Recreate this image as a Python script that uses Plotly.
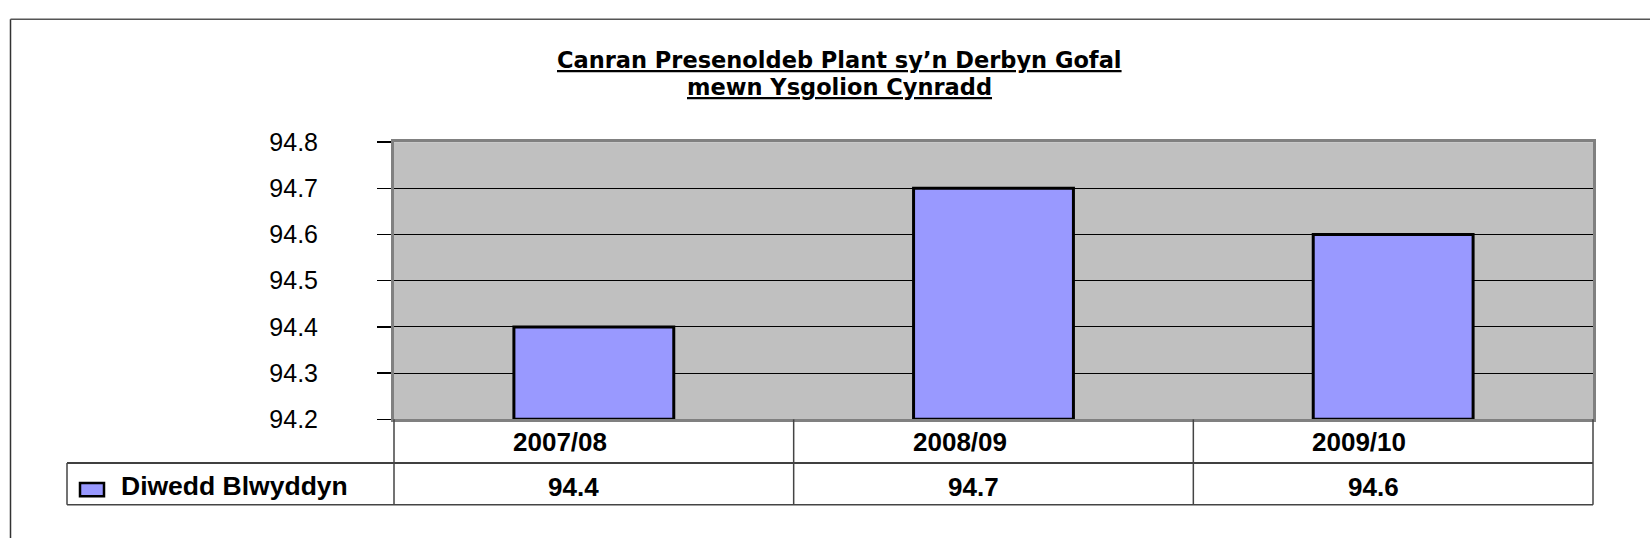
import plotly.graph_objects as go

categories = ["2007/08", "2008/09", "2009/10"]
values = [94.4, 94.7, 94.6]
series_name = "Diwedd Blwyddyn"
value_labels = ["94.4", "94.7", "94.6"]
y_ticks = [94.2, 94.3, 94.4, 94.5, 94.6, 94.7, 94.8]
title_lines = ["Canran Presenoldeb Plant sy\u2019n Derbyn Gofal", "mewn Ysgolion Cynradd"]

W, H = 1650, 552
PL, PR, PT, PB = 394, 1593, 135, 427   # plot area pixels
ROW1, ROW2 = 473, 517                  # table row bottoms
TL = 67                                # table left
BASE = 94.2

def px(x):
    return x / W

def py(y):
    return 1 - y / H

ARIAL = "Liberation Sans, Arial, sans-serif"
WIDE = "DejaVu Sans, Verdana, sans-serif"
GRAY = "#808080"

fig = go.Figure()
fig.add_trace(go.Bar(
    x=categories,
    y=[v - BASE for v in values],
    base=BASE,
    name=series_name,
    width=0.4,
    marker=dict(color="#9999FF", line=dict(color="black", width=3)),
    hoverinfo="skip",
))

shapes = []
dark = dict(color="black", width=1.5)
# outer border (left and top visible)
shapes.append(dict(type="line", xref="paper", yref="paper",
                   x0=px(10.5), x1=px(10.5), y0=0, y1=py(5.5), line=dict(color="#333333", width=1.5)))
shapes.append(dict(type="line", xref="paper", yref="paper",
                   x0=px(10.5), x1=1, y0=py(5.5), y1=py(5.5), line=dict(color="#555555", width=1.5)))
# table horizontal lines
shapes.append(dict(type="line", xref="paper", yref="paper",
                   x0=px(TL), x1=px(PR), y0=py(ROW1), y1=py(ROW1), line=dark))
shapes.append(dict(type="line", xref="paper", yref="paper",
                   x0=px(TL), x1=px(PR), y0=py(ROW2), y1=py(ROW2), line=dict(color="#444444", width=1.5)))
# table vertical lines
ncat = len(categories)
colw = (PR - PL) / ncat
for i in range(ncat + 1):
    xx = PL + i * colw
    shapes.append(dict(type="line", xref="paper", yref="paper",
                       x0=px(xx), x1=px(xx), y0=py(PB), y1=py(ROW2),
                       line=dict(color="#444444", width=1.5)))
shapes.append(dict(type="line", xref="paper", yref="paper",
                   x0=px(TL), x1=px(TL), y0=py(ROW1), y1=py(ROW2), line=dict(color="#444444", width=1.5)))
# legend key square
shapes.append(dict(type="rect", xref="paper", yref="paper",
                   x0=px(80), x1=px(104), y0=py(508), y1=py(494),
                   fillcolor="#9999FF", line=dict(color="black", width=2.5)))

annotations = []
for j, (t, yc) in enumerate(zip(title_lines, (48, 77))):
    annotations.append(dict(xref="paper", yref="paper", x=px(839), y=py(yc),
                            text="<b><u>" + t + "</u></b>",
                            showarrow=False, xanchor="center", yanchor="middle",
                            font=dict(family=WIDE, size=22.5, color="black")))
for i, c in enumerate(categories):
    cx = PL + (i + 0.5) * colw
    annotations.append(dict(xref="paper", yref="paper", x=px(cx - 34), y=py(451),
                            text="<b>" + c + "</b>", showarrow=False,
                            xanchor="center", yanchor="middle",
                            font=dict(family=ARIAL, size=26, color="black")))
    annotations.append(dict(xref="paper", yref="paper", x=px(cx - 20), y=py(498),
                            text="<b>" + value_labels[i] + "</b>", showarrow=False,
                            xanchor="center", yanchor="middle",
                            font=dict(family=ARIAL, size=26, color="black")))
annotations.append(dict(xref="paper", yref="paper", x=px(119), y=py(497),
                        text="<b>" + series_name + "</b>", showarrow=False,
                        xanchor="left", yanchor="middle",
                        font=dict(family=ARIAL, size=26.5, color="black")))

fig.update_layout(
    width=W, height=H,
    margin=dict(l=0, r=0, t=0, b=0),
    paper_bgcolor="white",
    plot_bgcolor="#C0C0C0",
    showlegend=False,
    shapes=shapes,
    annotations=annotations,
    font=dict(family=ARIAL, color="black"),
    xaxis=dict(domain=[px(PL), px(PR)], showticklabels=False, ticks="",
               showline=True, linecolor=GRAY, linewidth=3, mirror=True,
               showgrid=False, zeroline=False, fixedrange=True),
    yaxis=dict(domain=[py(PB), py(PT)], range=[94.2, 94.8],
               tickvals=y_ticks, ticktext=[f"{t:.1f}" for t in y_ticks],
               ticks="outside", ticklen=14, tickcolor="black", tickwidth=1.5,
               ticklabelstandoff=54,
               tickfont=dict(family=ARIAL, size=25, color="black"),
               showgrid=True, gridcolor="black", gridwidth=1,
               showline=True, linecolor=GRAY, linewidth=3, mirror=True,
               zeroline=False, fixedrange=True),
)

fig.write_html("out.html", config={"displayModeBar": False, "staticPlot": True},
               post_script="document.body.style.margin='0';document.body.style.overflow='hidden';")
